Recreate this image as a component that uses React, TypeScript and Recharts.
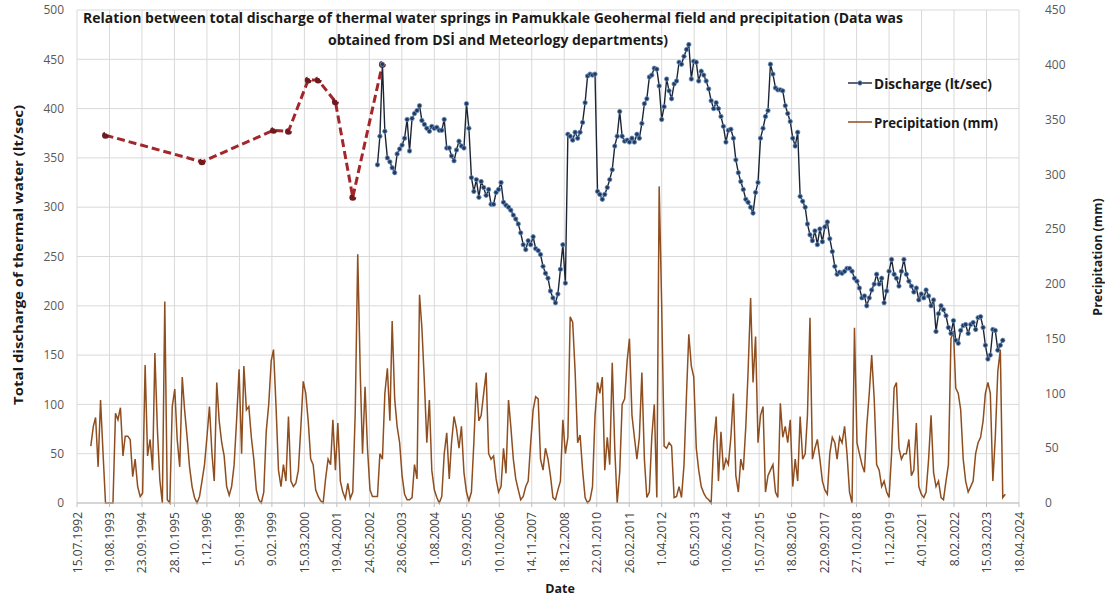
import { CartesianGrid, Line, LineChart, XAxis, YAxis } from 'recharts'

const DAY = 86400000
const AXIS_START = Date.UTC(1992, 6, 15)
const AXIS_SPAN_DAYS = 11600
const TICK_STEP_DAYS = 400

// monthly precipitation (mm), Jan 1993 onward
const PRECIPITATION_MM = [
  52, 70, 78, 33, 94, 45, 0, 0, 0, 0, 82, 76, 87, 43, 61, 61, 58, 24, 40, 15, 6, 9, 126, 43, 58, 30, 137, 67, 21, 0,
  184, 3, 0, 88, 104, 58, 33,
  115, 85, 60, 33, 15, 5, 0, 6, 20, 35, 60, 88, 45, 20, 110, 75, 55, 43, 15, 7, 15, 35, 75, 122, 45, 125, 85, 88, 60,
  40, 12, 3, 0, 10, 65, 90, 130, 140, 88, 30, 15, 35, 20, 79, 20, 15, 18, 30, 70,
  111, 100, 75, 40, 35, 12, 6, 2, 0, 22, 40, 35, 76, 30, 73, 20, 10, 4, 18, 4, 10, 82, 227, 119, 45, 106, 50, 12, 6, 6,
  6, 45, 40, 100, 123, 75, 166, 95, 70, 55, 25, 8, 3, 3, 5, 35, 22, 190, 160,
  110, 55, 94, 30, 12, 5, 0, 6, 45, 64, 22, 55, 79, 68, 50, 70, 28, 10, 2, 10, 55, 110, 75, 80, 100, 119, 45, 40, 43,
  22, 10, 15, 50, 27, 94, 70, 40, 22, 12, 3, 6, 15, 20, 55, 85, 97, 95, 40,
  30, 50, 40, 25, 5, 3, 12, 20, 76, 45, 60, 170, 165, 120, 55, 62, 30, 5, 0, 3, 15, 80, 110, 100, 115, 30, 60, 35, 128,
  50, 0, 28, 90, 95, 130, 150, 80, 60, 40, 60, 119, 40, 5, 10, 60, 90, 5, 289, 180,
  52, 50, 55, 52, 5, 6, 15, 5, 35, 100, 154, 125, 115, 50, 30, 15, 9, 5, 3, 0, 55, 79, 20, 65, 30, 40, 35, 60, 100, 25,
  10, 40, 30, 70, 120, 187, 110, 152, 55, 80, 88, 10, 25, 30, 35, 10, 5, 91, 60,
  70, 55, 76, 15, 40, 20, 79, 40, 45, 80, 169, 40, 50, 58, 40, 20, 12, 8, 45, 60, 55, 40, 60, 55, 70, 45, 10, 0, 160,
  55, 45, 35, 28, 70, 100, 135, 95, 35, 30, 15, 20, 10, 5, 45, 105, 110, 50, 40, 45,
  45, 58, 25, 30, 73, 15, 8, 5, 10, 40, 80, 28, 15, 20, 5, 3, 20, 35, 150, 157, 105, 100, 85, 40, 20, 10, 15, 20,
  45, 55, 60, 75, 100, 110, 100, 20, 60, 120, 140, 5, 8,
]

// monthly discharge (lt/sec), Sep 2002 onward
const DISCHARGE_LT_SEC = [
  343, 372, 445, 377, 350, 346, 340, 335, 354, 359, 363, 370, 389, 357, 390, 395, 398,
  403, 388, 384, 380, 377, 382, 380, 381, 378, 378, 389, 360, 360, 352, 347, 358, 367, 362, 360, 405, 380, 330, 316,
  328, 310, 326, 320, 312, 318, 303, 303, 315, 318, 325, 305, 302, 300, 297, 292, 288, 283, 274, 262, 257, 266, 262,
  270, 258, 256,
  252, 240, 233, 228, 215, 208, 203, 212, 237, 262, 223, 374, 372, 368, 376, 370, 376, 386, 406, 433, 435, 434, 435,
  316, 313, 308, 313, 320, 328, 338, 362, 372, 397, 372, 367, 368, 366, 370, 366, 374, 370, 385, 405, 410, 432, 434,
  441, 440, 423,
  389, 402, 430, 418, 410, 425, 428, 447, 445, 453, 460, 465, 430, 448, 447, 428, 438, 434, 428, 420, 408, 400, 406,
  400, 392, 382, 366, 378, 379, 370, 348, 335, 326, 318, 308, 305, 300, 294, 315, 325, 370, 380, 392, 398, 445, 435,
  421, 419,
  419, 418, 403, 395, 387, 370, 362, 376, 311, 306, 300, 283, 272, 266, 276, 262, 278, 265, 280, 285, 268, 255, 240,
  232, 234, 233, 235, 238, 238, 235, 228, 225, 218, 208, 210, 200, 208, 216, 222, 232, 222, 228, 203, 215, 235, 247,
  232, 228, 220,
  235, 247, 232, 225, 220, 214, 218, 206, 212, 208, 216, 210, 200, 206, 174, 192, 200, 196, 190, 178, 172, 185,
  165, 162, 175, 180, 181, 172, 181, 183, 176, 188, 189, 178, 160, 146, 150, 176, 175, 155, 160, 165,
]

// earlier, sparse discharge measurements (dashed)
const EARLY_DATES = [
  '1993-07-01', '1996-10-01', '1999-03-01', '1999-09-01', '2000-05-01', '2000-09-01', '2001-04-01', '2001-11-01',
  '2002-11-01',
]
const EARLY_DISCHARGE = [373, 346, 378, 377, 429, 429, 407, 310, 445]

const LEFT_TICKS = [0, 50, 100, 150, 200, 250, 300, 350, 400, 450, 500]
const RIGHT_TICKS = [0, 50, 100, 150, 200, 250, 300, 350, 400, 450]

const precipData = PRECIPITATION_MM.map((p, i) => ({ t: Date.UTC(1993, i, 1), p }))
const dischargeData = DISCHARGE_LT_SEC.map((q, i) => ({ t: Date.UTC(2002, 8 + i, 1), q }))
const earlyData = EARLY_DATES.map((d, i) => ({ t: Date.parse(d), q: EARLY_DISCHARGE[i] }))

const xTicks = Array.from({ length: 30 }, (_, i) => AXIS_START + i * TICK_STEP_DAYS * DAY)

const FONT = '"Open Sans", sans-serif'

function formatDate(v: number) {
  const d = new Date(v)
  return `${d.getUTCDate()}.${String(d.getUTCMonth() + 1).padStart(2, '0')}.${d.getUTCFullYear()}`
}

function DateTick({ x, y, payload }: any) {
  return (
    <text
      x={x}
      y={y}
      transform={`rotate(-90 ${x} ${y})`}
      textAnchor="end"
      dominantBaseline="central"
      fontSize={12}
      fontFamily={FONT}
      fill="#404040"
    >
      {formatDate(payload.value)}
    </text>
  )
}

const bold = { fontFamily: FONT, fontWeight: 700, fill: '#1a1a1a' } as const

export default function App() {
  return (
    <div style={{ position: 'fixed', left: 0, top: 0, width: 1105, height: 599, background: '#fff' }}>
      <LineChart width={1105} height={599} margin={{ top: 10, right: 26, bottom: 16, left: 17 }}>
        <CartesianGrid yAxisId="left" stroke="#d9d9d9" />
        <XAxis
          dataKey="t"
          type="number"
          domain={[AXIS_START, AXIS_START + AXIS_SPAN_DAYS * DAY]}
          ticks={xTicks}
          interval={0}
          allowDataOverflow
          height={80}
          tick={<DateTick />}
          tickSize={4}
          tickMargin={5}
          stroke="#bfbfbf"
        />
        <YAxis
          yAxisId="left"
          domain={[0, 500]}
          ticks={LEFT_TICKS}
          width={60}
          axisLine={false}
          tickLine={false}
          tickMargin={7}
          tick={{ fontSize: 12, fill: '#595959', fontFamily: FONT }}
        />
        <YAxis
          yAxisId="right"
          orientation="right"
          domain={[0, 450]}
          ticks={RIGHT_TICKS}
          width={60}
          axisLine={false}
          tickLine={false}
          tickMargin={20}
          tick={{ fontSize: 12, fill: '#595959', fontFamily: FONT }}
        />
        <Line
          yAxisId="right"
          data={precipData}
          dataKey="p"
          stroke="#8f4e1f"
          strokeWidth={1.5}
          dot={false}
          isAnimationActive={false}
        />
        <Line
          yAxisId="left"
          data={earlyData}
          dataKey="q"
          stroke="#a3262b"
          strokeWidth={3}
          strokeDasharray="8 4"
          dot={{ r: 2, fill: '#6e1a1e', stroke: '#6e1a1e' }}
          isAnimationActive={false}
        />
        <Line
          yAxisId="left"
          data={dischargeData}
          dataKey="q"
          stroke="#1b2536"
          strokeWidth={1.4}
          dot={{ r: 2.2, fill: '#1f3a5f', stroke: '#6d8fbf', strokeWidth: 0.8 }}
          isAnimationActive={false}
        />
      </LineChart>

      <svg width={1105} height={599} style={{ position: 'absolute', left: 0, top: 0, pointerEvents: 'none' }}>
        <text x={83} y={18} dominantBaseline="central" fontSize={13.5} textLength={820} lengthAdjust="spacingAndGlyphs" {...bold}>
          Relation between total discharge of thermal water springs in Pamukkale  Geohermal field and precipitation (Data was
        </text>
        <text x={328} y={40} dominantBaseline="central" fontSize={13.5} textLength={340} lengthAdjust="spacingAndGlyphs" {...bold}>
          obtained  from DSİ  and Meteorlogy  departments)
        </text>

        <line x1={848} x2={872} y1={83} y2={83} stroke="#1b2536" strokeWidth={1.4} />
        <circle cx={860} cy={83} r={2.2} fill="#1f3a5f" stroke="#6d8fbf" strokeWidth={0.8} />
        <text x={874} y={83} dominantBaseline="central" fontSize={14} textLength={118} lengthAdjust="spacingAndGlyphs" {...bold}>
          Discharge (lt/sec)
        </text>
        <line x1={848} x2={872} y1={122} y2={122} stroke="#8f4e1f" strokeWidth={1.5} />
        <text x={874} y={122} dominantBaseline="central" fontSize={14} textLength={124} lengthAdjust="spacingAndGlyphs" {...bold}>
          Precipitation (mm)
        </text>

        <text x={18} y={255} transform="rotate(-90 18 255)" textAnchor="middle" dominantBaseline="central" fontSize={13} textLength={300} lengthAdjust="spacingAndGlyphs" {...bold}>
          Total discharge of thermal water (lt/sec)
        </text>
        <text x={1097} y={257} transform="rotate(-90 1097 257)" textAnchor="middle" dominantBaseline="central" fontSize={12.5} {...bold}>
          Precipitation (mm)
        </text>
        <text x={560} y={588} textAnchor="middle" dominantBaseline="central" fontSize={12.5} {...bold}>
          Date
        </text>
      </svg>
    </div>
  )
}
